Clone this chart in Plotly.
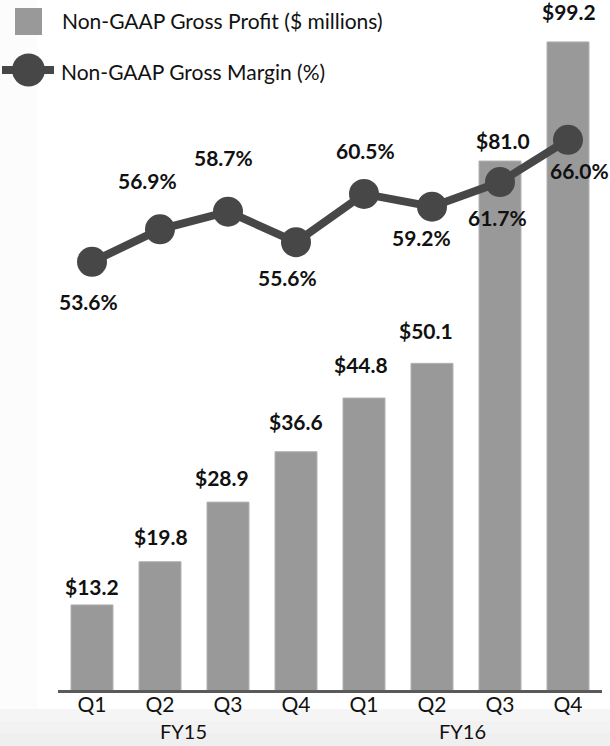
import plotly.graph_objects as go

# Quarterly non-GAAP results
quarters = ["Q1", "Q2", "Q3", "Q4", "Q1", "Q2", "Q3", "Q4"]
fiscal_years = ["FY15", "FY16"]
gross_profit = [13.2, 19.8, 28.9, 36.6, 44.8, 50.1, 81.0, 99.2]      # $ millions
gross_margin = [53.6, 56.9, 58.7, 55.6, 60.5, 59.2, 61.7, 66.0]      # %

# label nudges (pixels) so value labels sit clear of the line
profit_label_dx = [0, 1, -6, 0, -3, -6, 3, 1]
profit_label_dy = [18, 25, 25, 30, 34, 33, 21, 30]
margin_label_dx = [-4, -13, -5, -9, 1, -11, -3, 11]
margin_label_dy = [-40, 49, 54, -35, 43, -31, -35, -31]

BAR = "#999999"
LINE = "#474747"
TEXT = "#111111"
FONT = "Lato"

W, H = 610, 746
ML, MR, MT, MB = 58, 8, 0, 56
PW, PH = W - ML - MR, H - MT - MB


def px(x):
    return (x - ML) / PW


def py(y):
    return (MT + PH - y) / PH


xs = list(range(len(quarters)))

fig = go.Figure()
fig.add_trace(go.Bar(
    x=xs, y=gross_profit, yaxis="y",
    marker=dict(color=BAR, line=dict(color="#b3b3b3", width=1)),
    hoverinfo="skip", showlegend=False,
))
fig.add_trace(go.Scatter(
    x=xs, y=gross_margin, yaxis="y2", mode="lines+markers",
    line=dict(color=LINE, width=8),
    marker=dict(color=LINE, size=30),
    hoverinfo="skip", showlegend=False, cliponaxis=False,
))

value_font = dict(family=FONT, size=21, color=TEXT, weight="bold")
annotations = []
for i, v in enumerate(gross_profit):
    annotations.append(dict(
        x=i, y=v, xref="x", yref="y", text=f"${v:.1f}", showarrow=False,
        xshift=profit_label_dx[i], yshift=profit_label_dy[i],
        yanchor="middle", font=value_font,
    ))
for i, v in enumerate(gross_margin):
    annotations.append(dict(
        x=i, y=v, xref="x", yref="y2", text=f"{v:.1f}%", showarrow=False,
        xshift=margin_label_dx[i], yshift=margin_label_dy[i],
        yanchor="middle", font=value_font,
    ))

# fiscal year group labels under the quarter ticks
for fy, xc in zip(fiscal_years, [1.35, 5.45]):
    annotations.append(dict(
        x=xc, y=py(731), xref="x", yref="paper", text=fy, showarrow=False,
        yanchor="middle", font=dict(family=FONT, size=20, color=TEXT),
    ))

# legend text
legend_font = dict(family=FONT, size=21, color=TEXT)
annotations.append(dict(
    x=px(60), y=py(20), xref="paper", yref="paper", xanchor="left", yanchor="middle",
    text="Non-GAAP Gross Profit ($ millions)", showarrow=False, font=legend_font,
))
annotations.append(dict(
    x=px(59), y=py(71), xref="paper", yref="paper", xanchor="left", yanchor="middle",
    text="Non-GAAP Gross Margin (%)", showarrow=False, font=legend_font,
))

shapes = []
# soft shading toward the bottom of the page
for k, c in enumerate(["#f5f5f5", "#f2f2f2", "#efefef"]):
    y_top = 709 + k * 12
    shapes.append(dict(type="rect", xref="paper", yref="paper", x0=px(-2), x1=px(W + 2),
                       y0=py(H + 2), y1=py(y_top), fillcolor=c, line=dict(width=0),
                       layer="below"))
# white chart panel over the light page background
shapes.append(dict(type="rect", xref="paper", yref="paper", x0=px(38), x1=px(W + 2),
                   y0=py(709), y1=py(-2), fillcolor="white", line=dict(width=0), layer="below"))
# legend swatches
shapes += [
    dict(type="rect", xref="paper", yref="paper", x0=px(15), x1=px(42),
         y0=py(35), y1=py(8), fillcolor=BAR, line=dict(width=0)),
    dict(type="line", xref="paper", yref="paper", x0=px(2), x1=px(54),
         y0=py(70), y1=py(70), line=dict(color=LINE, width=8)),
    dict(type="circle", xref="paper", yref="paper", x0=px(12), x1=px(45),
         y0=py(86.5), y1=py(53.5), fillcolor=LINE, line=dict(width=0)),
]

fig.update_layout(
    width=W, height=H,
    margin=dict(l=ML, r=MR, t=MT, b=MB, pad=0),
    paper_bgcolor="#fcfcfc", plot_bgcolor="rgba(0,0,0,0)",
    bargap=0.382,
    font=dict(family=FONT, color=TEXT),
    xaxis=dict(
        range=[-0.5, 7.5], tickvals=xs, ticktext=quarters,
        tickfont=dict(family=FONT, size=21, color=TEXT),
        showgrid=False, zeroline=False, ticks="", ticklabelstandoff=-6,
        showline=True, linecolor="#5a5a5a", linewidth=2.5,
    ),
    yaxis=dict(range=[0.2, 105.6], visible=False, showgrid=False),
    yaxis2=dict(range=[10.1, 80.2], overlaying="y", visible=False, showgrid=False),
    annotations=annotations,
    shapes=shapes,
    showlegend=False,
)

fig.write_html("out.html")
